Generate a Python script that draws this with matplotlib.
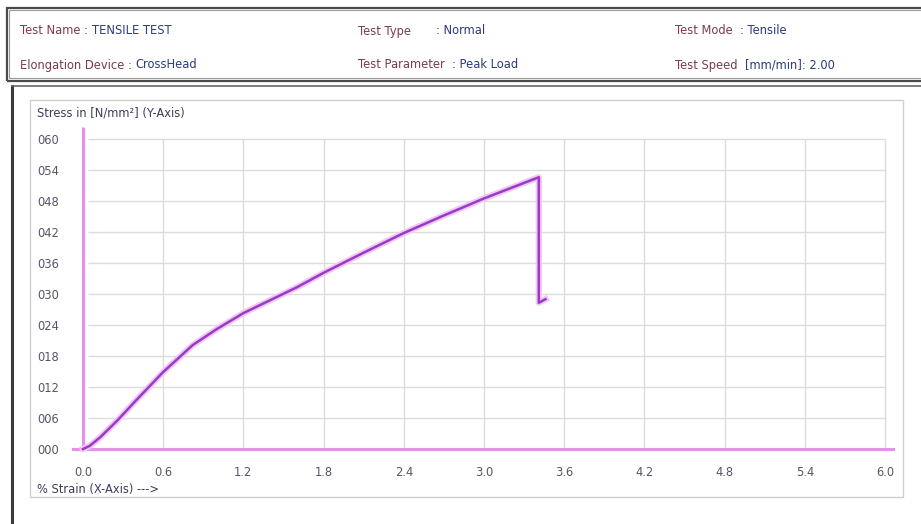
import matplotlib
matplotlib.use("Agg")
import matplotlib.pyplot as plt
from matplotlib.patches import Rectangle
import numpy as np

# ---- data ----
strain = [0.0, 0.05, 0.13, 0.26, 0.40, 0.60, 0.82, 1.00, 1.20, 1.40, 1.60, 1.80,
          2.10, 2.40, 2.70, 3.00, 3.20, 3.41, 3.41, 3.46]
stress = [0.0, 0.6, 2.3, 5.6, 9.5, 14.9, 20.1, 23.2, 26.3, 28.8, 31.3, 34.1,
          38.0, 41.8, 45.2, 48.5, 50.5, 52.6, 28.3, 29.0]
x_ticks = [0.0, 0.6, 1.2, 1.8, 2.4, 3.0, 3.6, 4.2, 4.8, 5.4, 6.0]
x_tick_labels = ["0.0", "0.6", "1.2", "1.8", "2.4", "3.0", "3.6", "4.2", "4.8", "5.4", "6.0"]
y_ticks = [0, 6, 12, 18, 24, 30, 36, 42, 48, 54, 60]
y_tick_labels = ["000", "006", "012", "018", "024", "030", "036", "042", "048", "054", "060"]
header_rows = [
    [("Test Name : ", "TENSILE TEST"), ("Test Type       ", ": Normal"), ("Test Mode  ", ": Tensile")],
    [("Elongation Device : ", "CrossHead"), ("Test Parameter  ", ": Peak Load"), ("Test Speed  ", "[mm/min]: 2.00")],
]
y_label = "Stress in [N/mm\u00b2] (Y-Axis)"
x_label = "% Strain (X-Axis) --->"

W, H = 921, 524
fig = plt.figure(figsize=(W / 100, H / 100), dpi=100)
fig.patch.set_facecolor("white")

def fx(px):
    return px / W

def fy(py):
    return 1 - py / H

# header box
fig.patches.append(Rectangle((fx(7), fy(81)), fx(930) - fx(7), fy(8) - fy(81),
                             transform=fig.transFigure, fill=False, ec="#4a4a4a", lw=1.6))
fig.patches.append(Rectangle((fx(9), fy(78)), fx(930) - fx(9), fy(10) - fy(78),
                             transform=fig.transFigure, fill=False, ec="#9a9a9a", lw=0.8))
# lower panel
fig.add_artist(plt.Line2D([fx(12), fx(12)], [fy(86), fy(530)], transform=fig.transFigure,
                          color="#3a3a3a", lw=2.2))
fig.add_artist(plt.Line2D([fx(12), fx(930)], [fy(86), fy(86)], transform=fig.transFigure,
                          color="#6a6a6a", lw=1.2))
# inner chart frame
fig.patches.append(Rectangle((fx(30), fy(497)), fx(903) - fx(30), fy(100) - fy(497),
                             transform=fig.transFigure, fill=False, ec="#d0d0d0", lw=1.0))

label_col = "#7a3c4c"
value_col = "#2c3c7c"
col_x = [20, 358, 675]
row_y = [31, 65]
for r, row in enumerate(header_rows):
    for c, (lab, val) in enumerate(row):
        t = fig.text(fx(col_x[c]), fy(row_y[r]), lab, fontsize=8.3, color=label_col,
                     va="center", ha="left", family="DejaVu Sans")
        fig.canvas.draw()
        bb = t.get_window_extent()
        fig.text(bb.x1 / W, fy(row_y[r]), val, fontsize=8.3, color=value_col,
                 va="center", ha="left", family="DejaVu Sans")

# axes: x=0 at px 83, x=6 at px 885; y=0 at py 449, y=60 at py 139
px_per_x = (885 - 83) / 6.0
px_per_y = (449 - 139) / 60.0
xmin = -(83 - 72) / px_per_x
xmax = 6.0 + (895 - 885) / px_per_x
ymin = -(452 - 449) / px_per_y
ymax = (449 - 127) / px_per_y
left_px = 72
right_px = 895
bottom_py = 452
top_py = 127
ax = fig.add_axes([fx(left_px), fy(bottom_py), fx(right_px) - fx(left_px), fy(top_py) - fy(bottom_py)])
ax.set_xlim(xmin, xmax)
ax.set_ylim(ymin, ymax)
ax.set_facecolor("white")
for s in ax.spines.values():
    s.set_visible(False)

grid_col = "#dcdcdc"
ax.hlines(y_ticks[1:], 0.04, x_ticks[-1], color=grid_col, lw=1.0, zorder=1)
ax.vlines(x_ticks[1:], 0, y_ticks[-1], color=grid_col, lw=1.0, zorder=1)

pink = "#e690ea"
ax.axhline(0, color=pink, lw=2.2, zorder=2)
ax.plot([0, 0], [0, ymax], color=pink, lw=2.2, zorder=2, solid_capstyle="butt")

ax.plot(strain, stress, color="#f3c6f3", lw=4.5, zorder=3, solid_joinstyle="round")
ax.plot(strain, stress, color="#963cc8", lw=1.8, zorder=4, solid_joinstyle="round")

ax.set_xticks(x_ticks)
ax.set_xticklabels(x_tick_labels)
ax.set_yticks(y_ticks)
ax.set_yticklabels(y_tick_labels)
ax.tick_params(axis="both", length=0, labelsize=8.3, colors="#555566")
ax.tick_params(axis="x", pad=10)
for lab in ax.get_yticklabels():
    lab.set_ha("left")
ax.yaxis.set_tick_params(pad=25)

fig.text(fx(37), fy(113), y_label, fontsize=8.3, color="#3c3c5c", va="center", ha="left")
fig.text(fx(37), fy(490), x_label, fontsize=8.3, color="#3c3c5c", va="center", ha="left")

fig.savefig("out.png", dpi=100)
